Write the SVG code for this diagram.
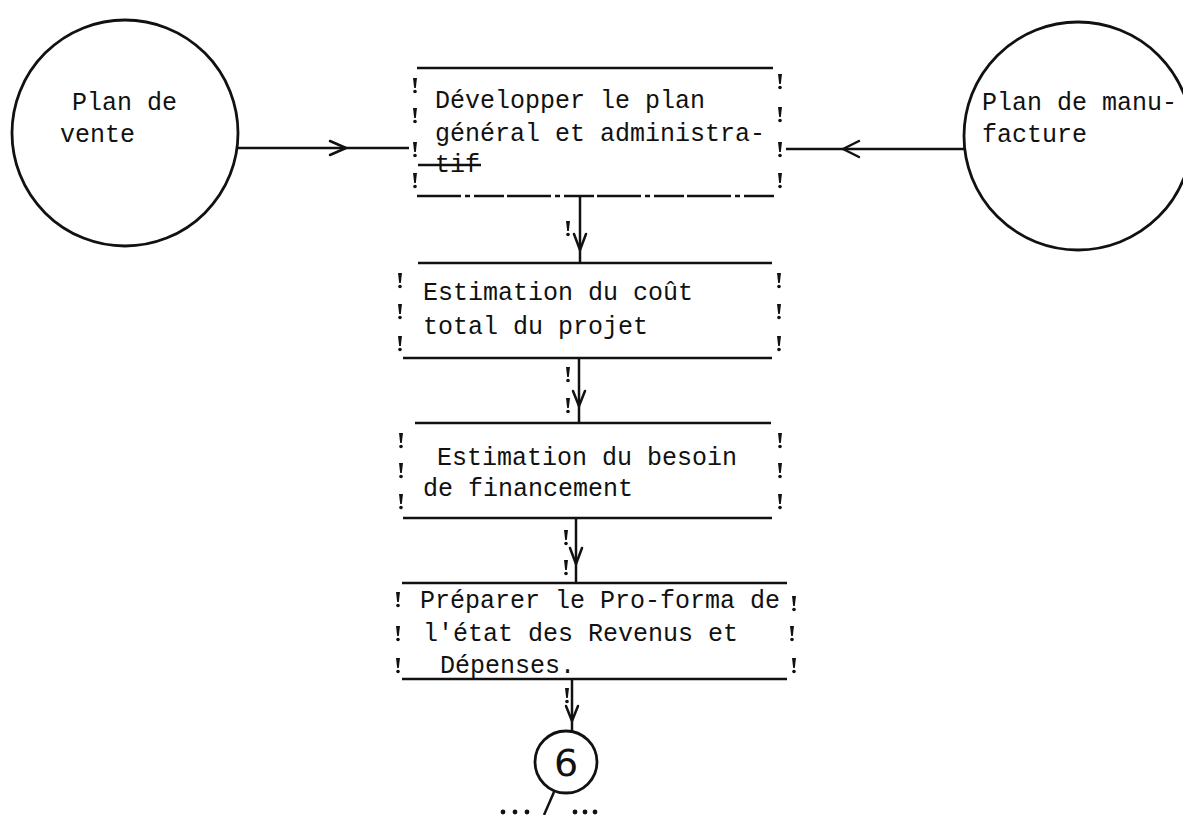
<svg xmlns="http://www.w3.org/2000/svg" xmlns:xlink="http://www.w3.org/1999/xlink" width="1183" height="815" viewBox="0 0 1183 815">
<style>
.t{font-family:"Liberation Mono","DejaVu Sans Mono",monospace;font-size:25px;fill:#111}
.ln{stroke:#111;stroke-width:2.5;fill:none}
.cir{stroke:#111;stroke-width:2.8;fill:none}
.ah{stroke:#111;stroke-width:2.5;fill:none;stroke-linecap:round;stroke-linejoin:round}
.dash{stroke:#111;stroke-width:2.5;fill:none;stroke-dasharray:44 4 5 4 30 3}
</style>
<defs>
<g id="bang">
<path d="M-2 0 L2 0 L0.8 10 L-0.8 10 Z" fill="#111"/>
<circle cx="0" cy="13.5" r="1.8" fill="#111"/>
</g>
</defs>
<rect width="1183" height="815" fill="#fff"/>

<g id="connectors">
<line class="ln" x1="238" y1="148" x2="409" y2="148"/>
<path class="ah" d="M330 141 L346 148 L330 155"/>
<line class="ln" x1="786" y1="149" x2="965" y2="149"/>
<path class="ah" d="M859 141 L843 149 L859 157"/>
<line class="ln" x1="580" y1="196" x2="580" y2="262"/>
<path class="ah" d="M574 234 L580 250 L586 234"/>
<use xlink:href="#bang" x="568" y="221"/>
<line class="ln" x1="579" y1="358" x2="579" y2="423"/>
<path class="ah" d="M573 391 L579 406 L585 391"/>
<use xlink:href="#bang" x="568" y="367"/>
<use xlink:href="#bang" x="568" y="398"/>
<line class="ln" x1="576" y1="518" x2="576" y2="583"/>
<path class="ah" d="M570 548 L576 564 L582 548"/>
<use xlink:href="#bang" x="566" y="530"/>
<use xlink:href="#bang" x="566" y="560"/>
<line class="ln" x1="572" y1="679" x2="572" y2="733"/>
<path class="ah" d="M566 706 L572 721 L578 706"/>
<use xlink:href="#bang" x="567" y="688"/>
<line class="ln" x1="554" y1="792" x2="544" y2="815"/>
<g fill="#111">
<circle cx="503" cy="812" r="2.4"/><circle cx="515" cy="812" r="2.4"/><circle cx="527" cy="812" r="2.4"/>
<circle cx="575" cy="812" r="2.4"/><circle cx="585" cy="812" r="2.4"/><circle cx="595" cy="812" r="2.4"/>
</g>
</g>

<g id="plan-vente">
<circle class="cir" cx="125" cy="133" r="113"/>
<text class="t" x="72" y="110">Plan de</text>
<text class="t" x="60" y="142">vente</text>
</g>

<g id="plan-manufacture">
<circle class="cir" cx="1078" cy="136" r="114"/>
<text class="t" x="982" y="110">Plan de manu-</text>
<text class="t" x="982" y="142">facture</text>
</g>

<g id="box1">
<line class="ln" x1="417" y1="68" x2="773" y2="68"/>
<line class="dash" x1="417" y1="196" x2="775" y2="196"/>
<use xlink:href="#bang" x="415" y="78"/>
<use xlink:href="#bang" x="415" y="108"/>
<use xlink:href="#bang" x="415" y="142"/>
<use xlink:href="#bang" x="415" y="173"/>
<use xlink:href="#bang" x="780" y="74"/>
<use xlink:href="#bang" x="780" y="107"/>
<use xlink:href="#bang" x="780" y="142"/>
<use xlink:href="#bang" x="780" y="173"/>
<text class="t" x="435" y="108">Développer le plan</text>
<text class="t" x="435" y="141">général et administra-</text>
<text class="t" x="435" y="172">tif</text>
<line class="ln" x1="418" y1="165" x2="481" y2="165"/>
</g>

<g id="box2">
<line class="ln" x1="418" y1="263" x2="772" y2="263"/>
<line class="ln" x1="403" y1="358" x2="772" y2="358"/>
<use xlink:href="#bang" x="400" y="273"/>
<use xlink:href="#bang" x="400" y="304"/>
<use xlink:href="#bang" x="400" y="336"/>
<use xlink:href="#bang" x="779" y="273"/>
<use xlink:href="#bang" x="779" y="304"/>
<use xlink:href="#bang" x="779" y="336"/>
<text class="t" x="423" y="300">Estimation du coût</text>
<text class="t" x="423" y="334">total du projet</text>
</g>

<g id="box3">
<line class="ln" x1="415" y1="423" x2="771" y2="423"/>
<line class="ln" x1="403" y1="518" x2="772" y2="518"/>
<use xlink:href="#bang" x="401" y="433"/>
<use xlink:href="#bang" x="401" y="463"/>
<use xlink:href="#bang" x="401" y="494"/>
<use xlink:href="#bang" x="780" y="433"/>
<use xlink:href="#bang" x="780" y="463"/>
<use xlink:href="#bang" x="780" y="494"/>
<text class="t" x="437" y="465">Estimation du besoin</text>
<text class="t" x="423" y="496">de financement</text>
</g>

<g id="box4">
<line class="ln" x1="402" y1="583" x2="787" y2="583"/>
<line class="ln" x1="402" y1="679" x2="787" y2="679"/>
<use xlink:href="#bang" x="398" y="592"/>
<use xlink:href="#bang" x="398" y="626"/>
<use xlink:href="#bang" x="398" y="658"/>
<use xlink:href="#bang" x="794" y="596"/>
<use xlink:href="#bang" x="792" y="626"/>
<use xlink:href="#bang" x="794" y="658"/>
<text class="t" x="420" y="608">Préparer le Pro-forma de</text>
<text class="t" x="423" y="641">l'état des Revenus et</text>
<text class="t" x="440" y="673">Dépenses.</text>
</g>

<g id="node6">
<circle class="cir" cx="566" cy="762" r="31"/>
<text x="566" y="776" text-anchor="middle" style="font-family:'DejaVu Sans',sans-serif;font-size:38px;fill:#111">6</text>
</g>
</svg>
